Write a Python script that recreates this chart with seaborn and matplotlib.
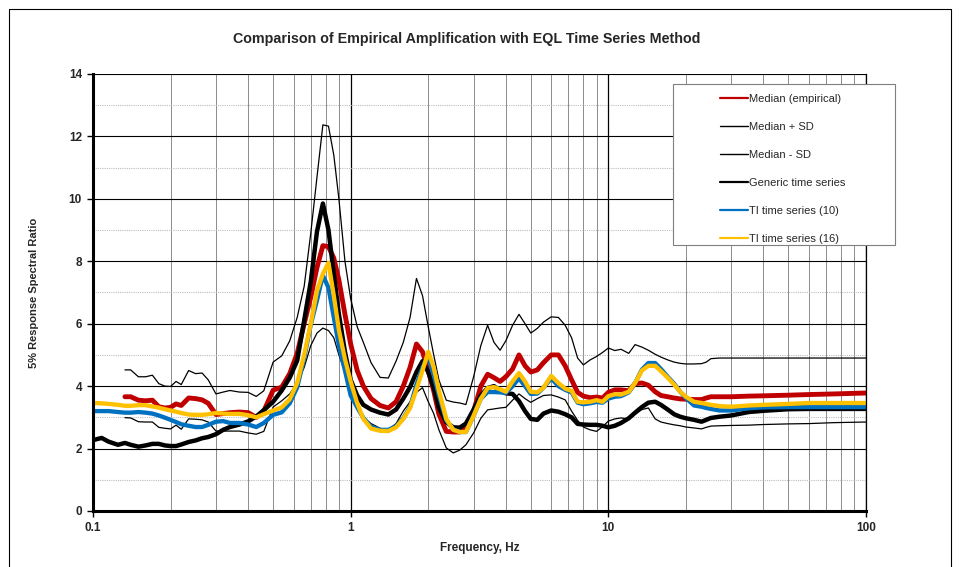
import numpy as np
import pandas as pd
import matplotlib
matplotlib.use("Agg")
import matplotlib.pyplot as plt
from matplotlib.ticker import LogLocator, MultipleLocator, NullFormatter
from matplotlib.patches import Rectangle
from matplotlib.lines import Line2D
import seaborn as sns

nan = np.nan

freq = [0.1, 0.108, 0.115, 0.125, 0.133, 0.14, 0.15, 0.16, 0.17, 0.18,
        0.19, 0.2, 0.21, 0.22, 0.235, 0.25, 0.265, 0.28, 0.3, 0.32,
        0.34, 0.37, 0.4, 0.43, 0.46, 0.5, 0.54, 0.58, 0.62, 0.66,
        0.7, 0.74, 0.78, 0.82, 0.86, 0.9, 0.95, 1.0, 1.06, 1.12,
        1.2, 1.3, 1.4, 1.5, 1.6, 1.7, 1.8, 1.9, 2.0, 2.1,
        2.2, 2.35, 2.5, 2.65, 2.8, 3.0, 3.2, 3.4, 3.6, 3.8,
        4.0, 4.25, 4.5, 4.75, 5.0, 5.3, 5.6, 6.0, 6.4, 6.8,
        7.2, 7.6, 8.0, 8.5, 9.0, 9.5, 10, 10.6, 11.2, 12,
        12.7, 13.5, 14.3, 15.2, 16, 17, 18, 19, 20, 21.5,
        23, 24, 25, 27, 30, 35, 40, 50, 60, 75,
        100]

median_emp = [nan, nan, nan, nan, 3.66, 3.66, 3.55, 3.53, 3.55, 3.34,
              3.30, 3.32, 3.43, 3.38, 3.62, 3.60, 3.56, 3.45, 3.09, 3.12,
              3.15, 3.17, 3.15, 3.00, 3.20, 3.87, 3.97, 4.40, 5.05, 6.00,
              6.85, 7.80, 8.50, 8.47, 8.10, 7.40, 6.30, 5.35, 4.50, 4.00,
              3.60, 3.38, 3.30, 3.50, 4.00, 4.60, 5.35, 5.10, 4.50, 3.85,
              3.10, 2.55, 2.53, 2.53, 2.65, 3.20, 4.00, 4.38, 4.27, 4.15,
              4.30, 4.55, 5.00, 4.65, 4.45, 4.52, 4.75, 5.00, 5.00, 4.65,
              4.20, 3.80, 3.68, 3.63, 3.65, 3.62, 3.80, 3.88, 3.88, 3.85,
              4.08, 4.10, 4.03, 3.82, 3.70, 3.66, 3.62, 3.59, 3.58, 3.57,
              3.57, 3.62, 3.66, 3.66, 3.66, 3.68, 3.69, 3.71, 3.73, 3.75,
              3.78]

median_plus = [nan, nan, nan, nan, 4.52, 4.52, 4.30, 4.30, 4.35, 4.08,
               4.00, 3.99, 4.15, 4.05, 4.50, 4.40, 4.42, 4.20, 3.75, 3.81,
               3.86, 3.81, 3.80, 3.67, 3.85, 4.77, 4.97, 5.45, 6.20, 7.20,
               8.90, 10.70, 12.37, 12.33, 11.40, 10.00, 8.00, 6.80, 5.90, 5.40,
               4.75, 4.28, 4.26, 4.80, 5.40, 6.20, 7.45, 6.90, 5.90, 5.00,
               4.20, 3.55, 3.49, 3.46, 3.41, 4.30, 5.30, 5.95, 5.40, 5.15,
               5.45, 5.95, 6.30, 6.00, 5.70, 5.85, 6.05, 6.22, 6.20, 5.95,
               5.55, 4.90, 4.68, 4.84, 4.95, 5.08, 5.22, 5.14, 5.18, 5.05,
               5.33, 5.25, 5.15, 5.02, 4.93, 4.84, 4.77, 4.73, 4.71, 4.71,
               4.72, 4.77, 4.88, 4.90, 4.90, 4.90, 4.90, 4.90, 4.90, 4.90,
               4.90]

median_minus = [nan, nan, nan, nan, 2.99, 2.98, 2.86, 2.85, 2.85, 2.68,
                2.65, 2.63, 2.75, 2.62, 2.95, 2.94, 2.92, 2.85, 2.56, 2.56,
                2.56, 2.56, 2.50, 2.46, 2.55, 3.33, 3.53, 3.75, 4.10, 4.60,
                5.30, 5.70, 5.86, 5.78, 5.55, 5.00, 4.45, 3.90, 3.35, 3.00,
                2.80, 2.65, 2.60, 2.80, 3.20, 3.50, 3.80, 3.95, 3.50, 3.12,
                2.60, 2.02, 1.86, 1.95, 2.12, 2.50, 2.97, 3.24, 3.27, 3.30,
                3.32, 3.55, 3.75, 3.60, 3.48, 3.60, 3.70, 3.72, 3.65, 3.56,
                3.20, 2.90, 2.69, 2.60, 2.55, 2.70, 2.88, 2.95, 2.98, 2.95,
                3.10, 3.25, 3.30, 2.95, 2.85, 2.80, 2.76, 2.73, 2.69, 2.66,
                2.63, 2.68, 2.72, 2.73, 2.74, 2.75, 2.77, 2.79, 2.80, 2.83,
                2.85]

generic = [2.27, 2.34, 2.22, 2.12, 2.18, 2.12, 2.06, 2.10, 2.15, 2.15,
           2.10, 2.08, 2.08, 2.13, 2.21, 2.26, 2.33, 2.37, 2.46, 2.60,
           2.69, 2.77, 2.87, 3.03, 3.23, 3.50, 3.86, 4.27, 4.82, 6.10,
           7.35, 8.95, 9.85, 9.00, 7.60, 6.30, 5.10, 4.20, 3.70, 3.40,
           3.25, 3.15, 3.09, 3.25, 3.60, 3.97, 4.45, 4.80, 4.45, 3.95,
           3.30, 2.85, 2.68, 2.67, 2.80, 3.25, 3.70, 3.94, 4.00, 3.85,
           3.77, 3.75, 3.52, 3.20, 2.95, 2.92, 3.12, 3.22, 3.18, 3.10,
           3.00, 2.79, 2.77, 2.76, 2.76, 2.73, 2.68, 2.73, 2.82, 2.97,
           3.15, 3.33, 3.47, 3.50, 3.40, 3.25, 3.10, 3.02, 2.97, 2.92,
           2.86, 2.92, 2.98, 3.02, 3.06, 3.17, 3.21, 3.26, 3.27, 3.27,
           3.27]

ti_10 = [3.20, 3.20, 3.20, 3.17, 3.15, 3.15, 3.17, 3.15, 3.12, 3.06,
         2.99, 2.92, 2.85, 2.78, 2.73, 2.69, 2.69, 2.76, 2.86, 2.88,
         2.82, 2.82, 2.77, 2.69, 2.82, 3.08, 3.16, 3.45, 3.96, 4.90,
         5.97, 6.75, 7.55, 7.15, 6.20, 5.30, 4.50, 3.70, 3.32, 2.98,
         2.70, 2.60, 2.60, 2.72, 2.97, 3.33, 4.05, 4.60, 4.95, 4.35,
         3.70, 2.90, 2.62, 2.53, 2.53, 3.05, 3.60, 3.81, 3.81, 3.80,
         3.78, 4.00, 4.25, 4.00, 3.75, 3.76, 3.95, 4.25, 4.00, 3.88,
         3.80, 3.47, 3.42, 3.45, 3.49, 3.47, 3.60, 3.66, 3.68, 3.80,
         4.10, 4.53, 4.74, 4.74, 4.55, 4.30, 4.08, 3.82, 3.62, 3.38,
         3.34, 3.30, 3.27, 3.22, 3.22, 3.29, 3.32, 3.33, 3.33, 3.33,
         3.33]

ti_16 = [3.46, 3.45, 3.43, 3.40, 3.37, 3.37, 3.39, 3.39, 3.35, 3.31,
         3.26, 3.22, 3.18, 3.14, 3.09, 3.08, 3.08, 3.10, 3.14, 3.12,
         3.11, 3.11, 3.07, 3.00, 3.10, 3.22, 3.32, 3.58, 4.10, 5.00,
         6.00, 7.05, 7.60, 7.95, 6.90, 5.80, 4.87, 4.15, 3.45, 2.95,
         2.64, 2.57, 2.56, 2.68, 2.95, 3.30, 3.90, 4.50, 5.10, 4.60,
         3.85, 2.95, 2.60, 2.53, 2.53, 3.05, 3.60, 3.94, 3.97, 3.90,
         3.82, 4.15, 4.42, 4.15, 3.82, 3.80, 3.95, 4.33, 4.10, 3.92,
         3.85, 3.50, 3.48, 3.50, 3.55, 3.50, 3.68, 3.74, 3.73, 3.82,
         4.10, 4.50, 4.65, 4.65, 4.48, 4.27, 4.05, 3.82, 3.66, 3.50,
         3.46, 3.43, 3.40, 3.36, 3.34, 3.38, 3.40, 3.43, 3.46, 3.46,
         3.46]

series_names = ["Median (empirical)", "Median + SD", "Median - SD",
                "Generic time series", "TI time series (10)", "TI time series (16)"]
series_values = [median_emp, median_plus, median_minus, generic, ti_10, ti_16]
colors = ["#C00000", "black", "black", "black", "#0070C0", "#FFC000"]
widths = [3.5, 0.9, 0.9, 3.2, 3.1, 3.1]

sns.set_style("white")
plt.rcParams["font.family"] = ["Liberation Sans", "DejaVu Sans"]

fig = plt.figure(figsize=(9.69, 5.67), dpi=100)
ax = fig.add_axes([0.096, 0.0988, 0.7977, 0.7707])

for name, vals, c, lw in zip(series_names, series_values, colors, widths):
    df = pd.DataFrame({"Frequency": freq, "Ratio": vals}).dropna()
    sns.lineplot(data=df, x="Frequency", y="Ratio", color=c, linewidth=lw,
                 ax=ax, sort=False, estimator=None, label=name, legend=False)

ax.set_xscale("log")
ax.set_xlim(0.1, 100)
ax.set_ylim(0, 14)
ax.set_xticks([0.1, 1, 10, 100])
ax.set_xticklabels(["0.1", "1", "10", "100"])
ax.xaxis.set_minor_locator(LogLocator(base=10, subs=np.arange(2, 10)))
ax.xaxis.set_minor_formatter(NullFormatter())
ax.yaxis.set_major_locator(MultipleLocator(2))
ax.yaxis.set_minor_locator(MultipleLocator(1))

ax.grid(which="major", axis="y", color="black", linewidth=0.8)
ax.grid(which="minor", axis="y", color="#bdbdbd", linewidth=0.8, linestyle=(0, (1, 1)))
ax.grid(which="major", axis="x", color="black", linewidth=0.9)
ax.grid(which="minor", axis="x", color="#8c8c8c", linewidth=0.7)
ax.set_axisbelow(True)

ax.spines["top"].set_visible(False)
ax.spines["right"].set_linewidth(0.9)
ax.spines["left"].set_linewidth(2.2)
ax.spines["bottom"].set_linewidth(2.2)
for s in ["left", "bottom", "right"]:
    ax.spines[s].set_color("black")

ax.tick_params(which="major", direction="out", length=4, width=1, color="black",
               labelsize=8.5, pad=4, left=True, bottom=True)
ax.tick_params(which="minor", length=0)
for lab in ax.get_xticklabels() + ax.get_yticklabels():
    lab.set_fontweight("bold")

ax.set_xlabel("Frequency, Hz", fontsize=8.5, fontweight="bold", labelpad=6)
ax.set_ylabel("5% Response Spectral Ratio", fontsize=8, fontweight="bold", labelpad=21)

fig.text(0.482, 0.932, "Comparison of Empirical Amplification with EQL Time Series Method",
         ha="center", va="center", fontsize=10.3, fontweight="bold")

# legend box
fig.patches.append(Rectangle((0.6945, 0.5679), 0.229, 0.284, transform=fig.transFigure,
                             facecolor="white", edgecolor="#7f7f7f", linewidth=0.8, zorder=3))
handles = [Line2D([], [], color=c, linewidth=1.6 if lw > 2 else 1.0)
           for c, lw in zip(colors, widths)]
fig.legend(handles, series_names, loc="upper left", bbox_to_anchor=(0.743, 0.835),
           frameon=False, fontsize=8, handlelength=2.5, handletextpad=0.15,
           labelspacing=1.62, borderpad=0, borderaxespad=0)

# outer frame
fig.add_artist(Line2D([9 / 969, 9 / 969], [0, 1 - 9 / 567], color="black", linewidth=0.8,
                      transform=fig.transFigure))
fig.add_artist(Line2D([9 / 969, 951 / 969], [1 - 9 / 567, 1 - 9 / 567], color="black",
                      linewidth=0.8, transform=fig.transFigure))
fig.add_artist(Line2D([951 / 969, 951 / 969], [0, 1 - 9 / 567], color="black", linewidth=0.8,
                      transform=fig.transFigure))

fig.savefig("out.png", dpi=100)
